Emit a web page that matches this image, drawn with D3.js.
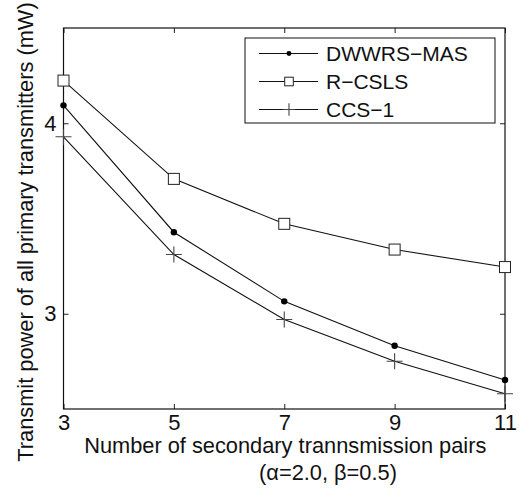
<!DOCTYPE html>
<html><head><meta charset="utf-8">
<script src="https://cdn.jsdelivr.net/npm/d3@7"></script>
<style>html,body{margin:0;padding:0;background:#fff;}</style>
</head><body>
<script>
const xValues = [3, 5, 7, 9, 11];
const dwwrsMas = [4.094, 3.428, 3.065, 2.832, 2.652];
const rCsls = [4.224, 3.708, 3.472, 3.337, 3.245];
const ccs1 = [3.929, 3.311, 2.970, 2.751, 2.580];
const seriesNames = ["DWWRS\u2212MAS", "R\u2212CSLS", "CCS\u22121"];
const markerTypes = ["dot", "square", "plus"];
const xTicks = [3, 5, 7, 9, 11];
const yTicks = [3, 4];
const xLabel = "Number of secondary trannsmission pairs";
const xLabel2 = "(\u03b1=2.0, \u03b2=0.5)";
const yLabel = "Transmit power of all primary transmitters (mW)";

const W = 521, H = 488;
const m = {left: 63.5, right: 505, top: 28, bottom: 409};
const font = "'Liberation Sans', Arial, Helvetica, sans-serif";
const svg = d3.select("body").append("svg").attr("width", W).attr("height", H)
  .style("font-family", font);
svg.append("rect").attr("width", W).attr("height", H).attr("fill", "#fff");

const x = d3.scaleLinear().domain([3, 11]).range([m.left, m.right]);
const y = d3.scaleLinear().domain([2.5, 4.5]).range([m.bottom, m.top]);

const tl = 5;
const gB = svg.append("g").attr("transform", `translate(0,${m.bottom})`)
  .call(d3.axisBottom(x).tickValues(xTicks).tickSize(-tl).tickPadding(9).tickFormat(d3.format("d")));
const gT = svg.append("g").attr("transform", `translate(0,${m.top})`)
  .call(d3.axisTop(x).tickValues(xTicks).tickSize(-tl).tickFormat(""));
const gL = svg.append("g").attr("transform", `translate(${m.left},0)`)
  .call(d3.axisLeft(y).tickValues(yTicks).tickSize(-tl).tickPadding(7).tickFormat(d3.format("d")));
const gR = svg.append("g").attr("transform", `translate(${m.right},0)`)
  .call(d3.axisRight(y).tickValues(yTicks).tickSize(-tl).tickFormat(""));
[gB, gT, gL, gR].forEach(g => {
  g.select(".domain").remove();
  g.selectAll(".tick line").attr("stroke", "#222").attr("stroke-width", 1);
  g.selectAll(".tick text").attr("font-size", 22).attr("fill", "#111").style("font-family", font);
});
gB.selectAll(".tick text").attr("dy", "0.71em").attr("y", 5);

svg.append("rect").attr("x", m.left).attr("y", m.top)
  .attr("width", m.right - m.left).attr("height", m.bottom - m.top)
  .attr("fill", "none").attr("stroke", "#111").attr("stroke-width", 1.2);

function drawMarker(g, type, cx, cy, s) {
  if (type === "dot") {
    g.append("circle").attr("cx", cx).attr("cy", cy).attr("r", 3.2 * s).attr("fill", "#000");
  } else if (type === "square") {
    const h = 5.5 * s;
    g.append("rect").attr("x", cx - h).attr("y", cy - h).attr("width", 2 * h).attr("height", 2 * h)
      .attr("fill", "#fff").attr("stroke", "#222").attr("stroke-width", 1);
  } else {
    const h = 8 * s;
    g.append("path").attr("d", `M${cx - h},${cy}H${cx + h}M${cx},${cy - h}V${cy + h}`)
      .attr("stroke", "#444").attr("stroke-width", 1.1).attr("fill", "none");
  }
}

const allSeries = [dwwrsMas, rCsls, ccs1];
const line = d3.line().x((d, i) => x(xValues[i])).y(d => y(d));
allSeries.forEach((vals, k) => {
  const g = svg.append("g");
  g.append("path").attr("d", line(vals)).attr("fill", "none").attr("stroke", "#111").attr("stroke-width", 1.1);
  vals.forEach((v, i) => drawMarker(g, markerTypes[k], x(xValues[i]), y(v), 1));
});

// legend
const lg = svg.append("g");
lg.append("rect").attr("x", 245).attr("y", 38).attr("width", 250).attr("height", 85)
  .attr("fill", "#fff").attr("stroke", "#111").attr("stroke-width", 1);
seriesNames.forEach((name, k) => {
  const cy = 53.5 + k * 28;
  lg.append("line").attr("x1", 259).attr("x2", 318).attr("y1", cy).attr("y2", cy)
    .attr("stroke", "#111").attr("stroke-width", 1);
  drawMarker(lg, markerTypes[k], 289, cy, 0.78);
  lg.append("text").attr("x", 326).attr("y", cy).attr("dy", "0.36em")
    .attr("font-size", 21).attr("fill", "#111").text(name);
});

// axis labels
svg.append("text").attr("x", (m.left + m.right) / 2 + 1).attr("y", 453)
  .attr("text-anchor", "middle").attr("font-size", 21.8).attr("fill", "#111").text(xLabel);
svg.append("text").attr("x", 328).attr("y", 480)
  .attr("text-anchor", "middle").attr("font-size", 21.8).attr("fill", "#111").text(xLabel2);
svg.append("text").attr("transform", `translate(33,232) rotate(-90)`)
  .attr("text-anchor", "middle").attr("font-size", 21.8).attr("fill", "#111").text(yLabel);
</script>
</body></html>
